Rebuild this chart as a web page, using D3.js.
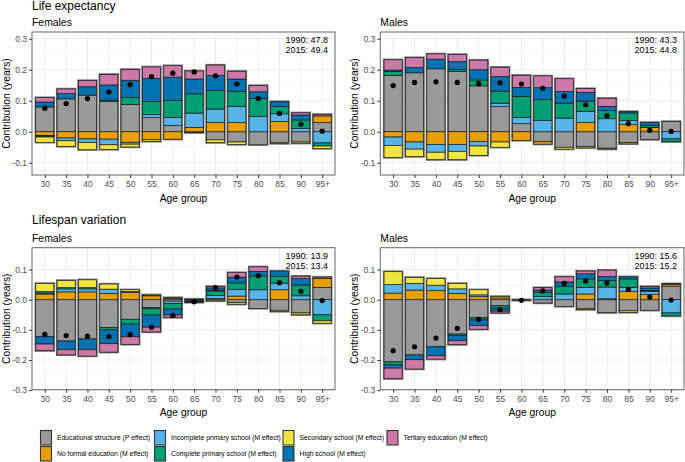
<!DOCTYPE html>
<html><head><meta charset="utf-8">
<script src="https://cdn.jsdelivr.net/npm/d3@7"></script>
<style>
body{margin:0;background:#fff}
svg{display:block}
text{font-family:"Liberation Sans",Arial,Helvetica,sans-serif}
</style>
</head><body>
<svg id="chart" width="685" height="462"></svg>
<script>
// ---------------- DATA ----------------
const ages = ["30","35","40","45","50","55","60","65","70","75","80","85","90","95+"];
const categories = [
  "Educational structure (P effect)",
  "No formal education (M effect)",
  "Incomplete primary school (M effect)",
  "Complete primary school (M effect)",
  "Secondary school (M effect)",
  "High school (M effect)",
  "Tertiary education (M effect)"
];
const colors = ["#999999","#E69F00","#56B4E9","#009E73","#F0E442","#0072B2","#CC79A7"];

// rows follow `categories` order, columns follow `ages`
const lifeExpFemales = [
  [ .080, .106, .118, .098, .088, .046, .020,-.003,-.026,-.033,-.042,-.034,-.033, .030],
  [-.012,-.020,-.023,-.024,-.034,-.026,-.024, .014, .030, .030, 0,    .033, 0,    .021],
  [-.002,-.009,-.012,-.018,-.006, .009, .026, .046, .043, .052, .049, .025, .010,-.036],
  [-.003, 0,    0,    .004, .022, .043, .055, .062, .060, .048, .059, .024, .028,-.010],
  [-.017,-.018,-.023,-.015,-.009,-.005, 0,    0,   -.009,-.008, 0,   -.004,-.004,-.008],
  [ .016, .017, .027, .049, .056, .074, .075, .048, .048, .040, .021, .015, .016, 0],
  [ .014, .015, .020, .034, .035, .037, .037, .026, .034, .025, .020, 0,    .007, .005]
];
const lifeExpMales = [
  [ .181, .190, .203, .194, .148, .081, .026,-.031,-.050,-.048,-.053,-.035,-.025, .033],
  [-.017,-.033,-.041,-.041,-.031,-.033,-.028,-.009, 0,    .030, 0,    .023, .014, 0],
  [-.027,-.023,-.025,-.022,-.015, .011, .020, .036, .044, .035, .042, .013, 0,   -.023],
  [ .013, 0,    0,    .007, .019, .039, .068, .068, .048, .034, .026, .025, .006,-.009],
  [-.039,-.024,-.024,-.027,-.030,-.017, 0,    0,   -.006,-.004,-.003,-.004, 0,    0],
  [ .005, .017, .031, .025, .033, .047, .029, .038, .038, .028, .014, .004, .010, 0],
  [ .033, .032, .017, .023, .031, .030, .039, .038, .041, .012, .026, 0,    0,    0]
];
const lifespanFemales = [
  [-.123,-.137,-.130,-.092,-.065,-.026,-.005,-.002,-.004,-.010,-.029,-.035,-.044, .041],
  [ .019, .026, .026, .021, .024, .013, .004, .001, .004, .012, 0,    .033, 0,    .030],
  [ .003, .010, .010, .014, .003,-.004,-.008, .001, .010, .022, .033, .022, .013,-.050],
  [ .005, .004, .004,-.008,-.016,-.021,-.018,-.004, .015, .022, .046, .022, .036,-.020],
  [ .027, .024, .026, .017, .006, .003, .003, 0,    .002,-.005, 0,   -.004,-.006,-.008],
  [-.024,-.029,-.036,-.046,-.042,-.040,-.020,-.002, .008, .019, .015, .018, .021, 0],
  [-.022,-.017,-.021,-.028,-.025,-.016,-.008,-.001, .005, .015, .015, 0,    .008, .004]
];
const lifespanMales = [
  [-.206,-.183,-.156,-.114,-.060,-.020,-.002,-.011,-.022,-.029,-.043,-.037,-.035, .045],
  [ .022, .032, .030, .021, .010, .006, 0,    0,    0,    .019, .003, .027, .017, .005],
  [ .028, .022, .018, .015, .006, 0,    0,    .010, .019, .022, .039, .014, .010,-.044],
  [-.010, 0,    0,   -.004,-.007,-.008, 0,    .014, .025, .028, .022, .028, .004,-.010],
  [ .043, .020, .022, .018, .017, .005, 0,    0,    0,   -.004, 0,   -.005, 0,    0],
  [-.011,-.016,-.030,-.018,-.019,-.010, 0,    .008, .015, .017, .013, .007, .008, .003],
  [-.035,-.031,-.011,-.013,-.012,-.006, 0,    .008, .017, .009, .021, 0,    .005, 0]
];
const lifeExpTicks = [-0.1, 0.0, 0.1, 0.2, 0.3];
const lifespanTicks = [-0.3, -0.2, -0.1, 0.0, 0.1];
const lifeExpFemalesNote = ["1990: 47.8", "2015: 49.4"];
const lifeExpMalesNote = ["1990: 43.3", "2015: 44.8"];
const lifespanFemalesNote = ["1990: 13.9", "2015: 13.4"];
const lifespanMalesNote = ["1990: 15.6", "2015: 15.2"];

// ---------------- DRAW ----------------
const svg = d3.select("#chart");
const fmt = v => { const s = d3.format(".1f")(Math.abs(v) < 1e-9 ? 0 : v); return s.replace("\u2212", "-"); };

const panels = [
  {data: lifeExpFemales, left: 32, right: 335, top: 32, bottom: 175, domain: [-0.1394, 0.3216], ticks: lifeExpTicks, minor: [-0.05,0.05,0.15,0.25], sub: "Females", note: lifeExpFemalesNote},
  {data: lifeExpMales, left: 380.3, right: 684, top: 32, bottom: 175, domain: [-0.1394, 0.3216], ticks: lifeExpTicks, minor: [-0.05,0.05,0.15,0.25], sub: "Males", note: lifeExpMalesNote},
  {data: lifespanFemales, left: 32, right: 335, top: 247.7, bottom: 389.7, domain: [-0.2985, 0.1725], ticks: lifespanTicks, minor: [-0.25,-0.15,-0.05,0.05,0.15], sub: "Females", note: lifespanFemalesNote},
  {data: lifespanMales, left: 380.3, right: 684, top: 247.7, bottom: 389.7, domain: [-0.2985, 0.1725], ticks: lifespanTicks, minor: [-0.25,-0.15,-0.05,0.05,0.15], sub: "Males", note: lifespanMalesNote}
];

svg.append("text").attr("x", 32).attr("y", 9.5).attr("font-size", 12).text("Life expectancy");
svg.append("text").attr("x", 32).attr("y", 224).attr("font-size", 12).text("Lifespan variation");

panels.forEach(p => {
  const g = svg.append("g");
  const x = d3.scalePoint().domain(ages).range([p.left, p.right]).padding(0.6);
  const y = d3.scaleLinear().domain(p.domain).range([p.bottom, p.top]);
  const step = x.step();
  const bw = step * 0.85;

  // background
  g.append("rect").attr("x", p.left).attr("y", p.top).attr("width", p.right - p.left).attr("height", p.bottom - p.top).attr("fill", "#fff");
  // minor grid
  p.minor.forEach(v => g.append("line").attr("x1", p.left).attr("x2", p.right).attr("y1", y(v)).attr("y2", y(v)).attr("stroke", "#F2F2F2").attr("stroke-width", 0.6));
  // major grid
  p.ticks.forEach(v => g.append("line").attr("x1", p.left).attr("x2", p.right).attr("y1", y(v)).attr("y2", y(v)).attr("stroke", "#EBEBEB").attr("stroke-width", 1));
  ages.forEach(a => g.append("line").attr("x1", x(a)).attr("x2", x(a)).attr("y1", p.top).attr("y2", p.bottom).attr("stroke", "#EBEBEB").attr("stroke-width", 1));

  // stacked data
  const rows = ages.map((a, i) => { const o = {age: a}; categories.forEach((c, k) => o[c] = p.data[k][i]); return o; });
  const series = d3.stack().keys(categories).offset(d3.stackOffsetDiverging)(rows);

  // outline of full extent
  rows.forEach((r, i) => {
    const vals = categories.map(c => r[c]);
    const pos = d3.sum(vals.filter(v => v > 0));
    const neg = d3.sum(vals.filter(v => v < 0));
    g.append("rect").attr("x", x(r.age) - bw/2).attr("width", bw)
      .attr("y", y(pos)).attr("height", Math.max(0.6, y(neg) - y(pos)))
      .attr("fill", "none").attr("stroke", "#7a7a7a").attr("stroke-width", 2.4);
  });

  series.forEach((s, k) => {
    g.selectAll(null).data(s.filter(d => d[1] !== d[0])).enter().append("rect")
      .attr("x", d => x(d.data.age) - bw/2).attr("width", bw)
      .attr("y", d => y(d[1])).attr("height", d => Math.max(0.5, y(d[0]) - y(d[1])))
      .attr("fill", colors[k]).attr("stroke", "#1a1a1a").attr("stroke-width", 0.7);
  });

  // totals
  g.selectAll(null).data(rows).enter().append("circle")
    .attr("cx", d => x(d.age)).attr("cy", d => y(d3.sum(categories, c => d[c])))
    .attr("r", 2.6).attr("fill", "#000");

  // border
  g.append("rect").attr("x", p.left).attr("y", p.top).attr("width", p.right - p.left).attr("height", p.bottom - p.top)
    .attr("fill", "none").attr("stroke", "#666").attr("stroke-width", 1);

  // axes
  const ya = g.append("g").attr("transform", `translate(${p.left},0)`)
    .call(d3.axisLeft(y).tickValues(p.ticks).tickSize(3).tickPadding(2).tickFormat(fmt));
  ya.select(".domain").remove();
  ya.selectAll("line").attr("stroke", "#333");
  ya.selectAll("text").attr("font-size", 8.5).attr("fill", "#4D4D4D").attr("font-family", '"Liberation Sans",Arial,sans-serif');
  const xa = g.append("g").attr("transform", `translate(0,${p.bottom})`)
    .call(d3.axisBottom(x).tickSize(3).tickPadding(3));
  xa.select(".domain").remove();
  xa.selectAll("line").attr("stroke", "#333");
  xa.selectAll("text").attr("font-size", 8.5).attr("fill", "#4D4D4D").attr("font-family", '"Liberation Sans",Arial,sans-serif');

  // titles
  g.append("text").attr("x", p.left).attr("y", p.top - 6.2).attr("font-size", 10.4).text(p.sub);
  g.append("text").attr("x", (p.left + p.right)/2).attr("y", p.bottom + 26.5).attr("text-anchor", "middle").attr("font-size", 10.3).text("Age group");
  g.append("text").attr("transform", `translate(${p.left - 22.5},${(p.top + p.bottom)/2}) rotate(-90)`)
    .attr("text-anchor", "middle").attr("font-size", 10.3).text("Contribution (years)");
  p.note.forEach((t, i) => g.append("text").attr("x", p.right - 7).attr("y", p.top + 11 + i * 9.8)
    .attr("text-anchor", "end").attr("font-size", 9).text(t));
});

// legend
const legendCols = [40.5, 154.5, 283, 387];
categories.forEach((c, k) => {
  const col = Math.floor(k / 2), row = k % 2;
  const lx = legendCols[col], ly = 430.5 + row * 16;
  svg.append("rect").attr("x", lx).attr("y", ly).attr("width", 11).attr("height", 14.5)
    .attr("fill", colors[k]).attr("stroke", "#333").attr("stroke-width", 1.1);
  svg.append("text").attr("x", lx + 16.5).attr("y", ly + 9.8).attr("font-size", 6.8).text(c);
});
</script>
</body></html>
